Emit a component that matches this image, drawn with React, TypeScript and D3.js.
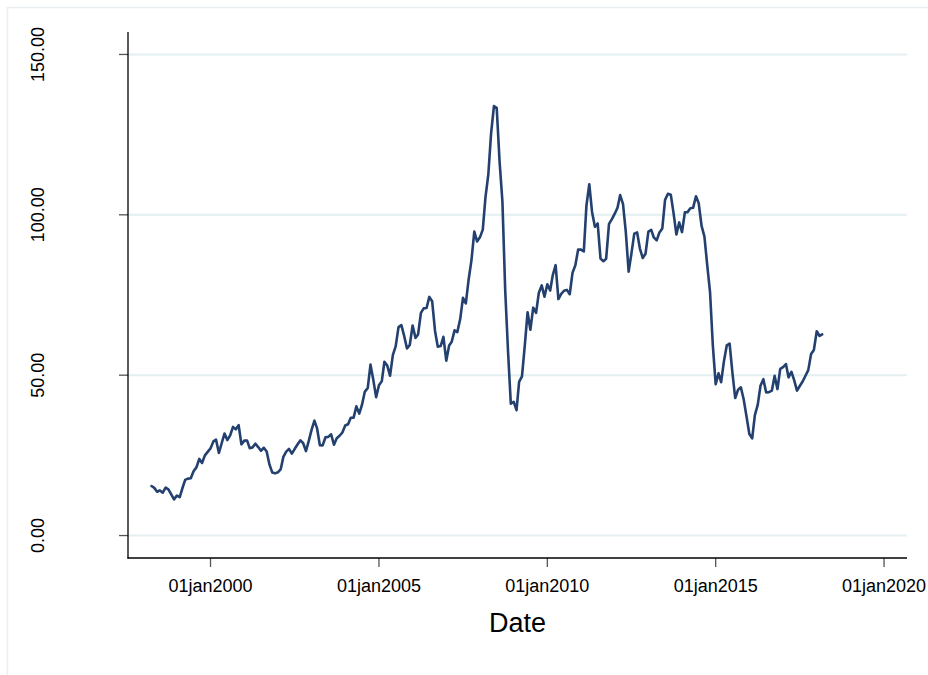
import React from "react";
import * as d3 from "d3";

// WTI monthly average price (USD/bbl)
const startYear = 1998;
const startMonth = 3; // April (0-based)
const p1998 = [15.44, 14.86, 13.66, 14.08, 13.36, 14.95, 14.39, 12.85, 11.28];
const p1999 = [12.47, 12.01, 14.66, 17.34, 17.75, 17.89, 20.07, 21.26, 23.88, 22.64, 25.0, 26.1];
const p2000 = [27.18, 29.35, 29.89, 25.74, 28.78, 31.83, 29.77, 31.22, 33.88, 33.11, 34.42, 28.44];
const p2001 = [29.59, 29.61, 27.25, 27.49, 28.63, 27.6, 26.43, 27.37, 26.2, 22.17, 19.64, 19.39];
const p2002 = [19.72, 20.72, 24.53, 26.18, 27.04, 25.52, 26.97, 28.39, 29.66, 28.84, 26.35, 29.46];
const p2003 = [32.95, 35.83, 33.51, 28.17, 28.11, 30.66, 30.76, 31.57, 28.31, 30.34, 31.11, 32.13];
const p2004 = [34.31, 34.69, 36.74, 36.75, 40.28, 38.03, 40.78, 44.9, 45.94, 53.28, 48.47, 43.15];
const p2005 = [46.84, 48.15, 54.19, 52.98, 49.83, 56.35, 59.0, 64.99, 65.59, 62.26, 58.32, 59.41];
const p2006 = [65.49, 61.63, 62.69, 69.44, 70.84, 70.95, 74.41, 73.04, 63.8, 58.89, 59.08, 61.96];
const p2007 = [54.51, 59.28, 60.44, 63.98, 63.46, 67.49, 74.12, 72.36, 79.92, 85.8, 94.77, 91.69];
const p2008 = [92.97, 95.39, 105.45, 112.58, 125.4, 133.88, 133.37, 116.67, 104.11, 76.61, 57.31, 41.12];
const p2009 = [41.71, 39.09, 47.94, 49.65, 59.03, 69.64, 64.15, 71.05, 69.41, 75.72, 77.99, 74.47];
const p2010 = [78.33, 76.39, 81.2, 84.29, 73.74, 75.34, 76.32, 76.6, 75.24, 81.89, 84.25, 89.15];
const p2011 = [89.17, 88.58, 102.86, 109.53, 100.9, 96.26, 97.3, 86.33, 85.52, 86.32, 97.16, 98.56];
const p2012 = [100.27, 102.2, 106.16, 103.32, 94.66, 82.3, 87.9, 94.13, 94.51, 89.49, 86.53, 87.86];
const p2013 = [94.76, 95.31, 92.94, 92.02, 94.51, 95.77, 104.67, 106.57, 106.29, 100.54, 93.86, 97.63];
const p2014 = [94.62, 100.82, 100.8, 102.07, 102.18, 105.79, 103.59, 96.54, 93.21, 84.4, 75.79, 59.29];
const p2015 = [47.22, 50.58, 47.82, 54.45, 59.27, 59.82, 50.9, 42.87, 45.48, 46.22, 42.44, 37.19];
const p2016 = [31.68, 30.32, 37.55, 40.75, 46.71, 48.76, 44.65, 44.72, 45.18, 49.78, 45.66, 51.97];
const p2017 = [52.5, 53.47, 49.33, 51.06, 48.48, 45.18, 46.63, 48.04, 49.82, 51.58, 56.64, 57.88];
const p2018 = [63.7, 62.23, 62.73];

const yTicks = [0, 50, 100, 150];
const xTickYears = [2000, 2005, 2010, 2015, 2020];
const xTitle = "Date";

const allPrices = [
  ...p1998, ...p1999, ...p2000, ...p2001, ...p2002, ...p2003, ...p2004,
  ...p2005, ...p2006, ...p2007, ...p2008, ...p2009, ...p2010, ...p2011,
  ...p2012, ...p2013, ...p2014, ...p2015, ...p2016, ...p2017, ...p2018,
];
const series = allPrices.map((v, i) => ({
  date: new Date(startYear, startMonth + i, 1),
  value: v,
}));

const W = 928;
const H = 675;
const left = 128;
const right = 907;
const top = 32;
const bottom = 558;

export default function App() {
  const x = d3
    .scaleTime()
    .domain([new Date(1997, 6, 20), new Date(2020, 8, 6)])
    .range([left, right]);
  const y = d3.scaleLinear().domain([-7, 157]).range([bottom, top]);
  const line = d3
    .line<{ date: Date; value: number }>()
    .x((d) => x(d.date))
    .y((d) => y(d.value));
  const fmt = d3.format(".2f");
  const font = "'Liberation Sans', Arial, Helvetica, sans-serif";
  const lineColor = "#23406f";
  const gridColor = "#e3eff0";

  return (
    <svg
      width={W}
      height={H}
      style={{ position: "absolute", left: 0, top: 0, background: "#fff" }}
      fontFamily={font}
    >
      <rect x={0} y={0} width={W} height={H} fill="#fff" />
      <rect x={7.5} y={7.5} width={W + 20} height={H + 20} fill="none" stroke="#e9eff1" strokeWidth={1.5} />
      {yTicks.map((t) => (
        <line key={"g" + t} x1={left} x2={right} y1={y(t)} y2={y(t)} stroke={gridColor} strokeWidth={2} />
      ))}
      {yTicks.map((t) => (
        <g key={"yt" + t}>
          <line x1={left - 9} x2={left} y1={y(t)} y2={y(t)} stroke="#555" strokeWidth={1.3} />
          <text
            transform={`translate(43.5,${y(t)}) rotate(-90)`}
            textAnchor="middle"
            fontSize={18}
            fill="#000"
          >
            {fmt(t)}
          </text>
        </g>
      ))}
      {xTickYears.map((yr) => {
        const xx = x(new Date(yr, 0, 1));
        return (
          <g key={"xt" + yr}>
            <line x1={xx} x2={xx} y1={bottom} y2={bottom + 9} stroke="#555" strokeWidth={1.3} />
            <text x={xx} y={592} textAnchor="middle" fontSize={18} fill="#000">
              {"01jan" + yr}
            </text>
          </g>
        );
      })}
      <line x1={left} x2={left} y1={top} y2={bottom + 0.6} stroke="#000" strokeWidth={1.3} />
      <line x1={left - 0.6} x2={right} y1={bottom} y2={bottom} stroke="#000" strokeWidth={1.3} />
      <path
        d={line(series) || ""}
        fill="none"
        stroke={lineColor}
        strokeWidth={2.6}
        strokeLinejoin="round"
        strokeLinecap="round"
      />
      <text x={(left + right) / 2} y={632} textAnchor="middle" fontSize={27} fill="#000">
        {xTitle}
      </text>
    </svg>
  );
}
